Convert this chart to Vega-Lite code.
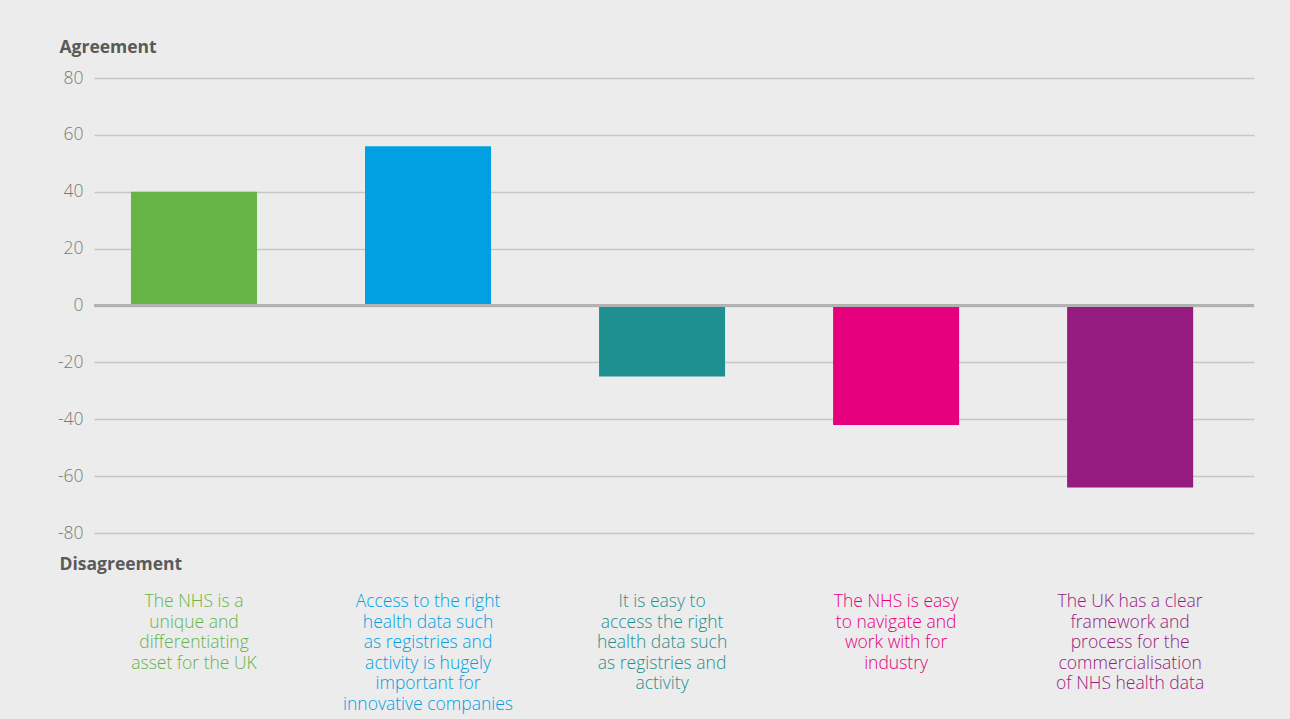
{
  "$schema": "https://vega.github.io/schema/vega-lite/v6.json",
  "width": 1160,
  "height": 455,
  "autosize": {"type": "none"},
  "padding": {"left": 94, "top": 78, "right": 36, "bottom": 186},
  "background": "#ececec",
  "config": {"view": {"stroke": null}, "font": "Open Sans"},
  "data": {
    "values": [
      {"statement": "The NHS is a unique and differentiating asset for the UK", "label": "The NHS is a\nunique and\ndifferentiating\nasset for the UK", "value": 40},
      {"statement": "Access to the right health data such as registries and activity is hugely important for innovative companies", "label": "Access to the right\nhealth data such\nas registries and\nactivity is hugely\nimportant for\ninnovative companies", "value": 56},
      {"statement": "It is easy to access the right health data such as registries and activity", "label": "It is easy to\naccess the right\nhealth data such\nas registries and\nactivity", "value": -25},
      {"statement": "The NHS is easy to navigate and work with for industry", "label": "The NHS is easy\nto navigate and\nwork with for\nindustry", "value": -42},
      {"statement": "The UK has a clear framework and process for the commercialisation of NHS health data", "label": "The UK has a clear\nframework and\nprocess for the\ncommercialisation\nof NHS health data", "value": -64}
    ]
  },
  "layer": [
    {
      "mark": {"type": "bar"},
      "encoding": {
        "x": {
          "field": "statement", "type": "nominal", "sort": null,
          "scale": {"paddingInner": 0.4615, "paddingOuter": 0.209, "align": 0.378},
          "axis": {
            "labels": false, "ticks": false, "domain": false, "grid": false,
            "title": "Disagreement", "titleX": -35, "titleY": 31,
            "titleAlign": "left", "titleAnchor": "start", "titleBaseline": "middle",
            "titleFontSize": 17.5, "titleFontWeight": "bold", "titleColor": "#5a5a5a"
          }
        },
        "y": {
          "field": "value", "type": "quantitative",
          "scale": {"domain": [-80, 80], "nice": false},
          "axis": {
            "values": [-80, -60, -40, -20, 0, 20, 40, 60, 80],
            "labelExpr": "'' + datum.value",
            "title": "Agreement", "titleAngle": 0, "titleAlign": "left", "titleBaseline": "middle",
            "titleX": -35, "titleY": -31, "titleFontSize": 17.5, "titleFontWeight": "bold", "titleColor": "#5a5a5a",
            "labelColor": "#7a7a7a", "labelFontSize": 17.5, "labelFontWeight": 300, "labelPadding": 11,
            "ticks": false, "domain": false,
            "gridColor": "#c6c6c6", "gridWidth": 1.5
          }
        },
        "color": {
          "field": "statement", "type": "nominal", "sort": null,
          "scale": {"range": ["#66b446", "#00a0e2", "#1f9090", "#e6007e", "#951b81"]},
          "legend": null
        }
      }
    },
    {
      "data": {"values": [{"zero": 0}]},
      "mark": {"type": "rule", "color": "#b2b2b2", "strokeWidth": 3},
      "encoding": {"y": {"field": "zero", "type": "quantitative"}}
    },
    {
      "mark": {"type": "text", "lineBreak": "\n", "baseline": "top", "align": "center", "dy": 60, "fontSize": 17.5, "fontWeight": 300, "lineHeight": 20.6},
      "encoding": {
        "x": {"field": "statement", "type": "nominal", "sort": null},
        "y": {"datum": -80},
        "text": {"field": "label"},
        "color": {"field": "statement", "type": "nominal", "sort": null}
      }
    }
  ]
}
